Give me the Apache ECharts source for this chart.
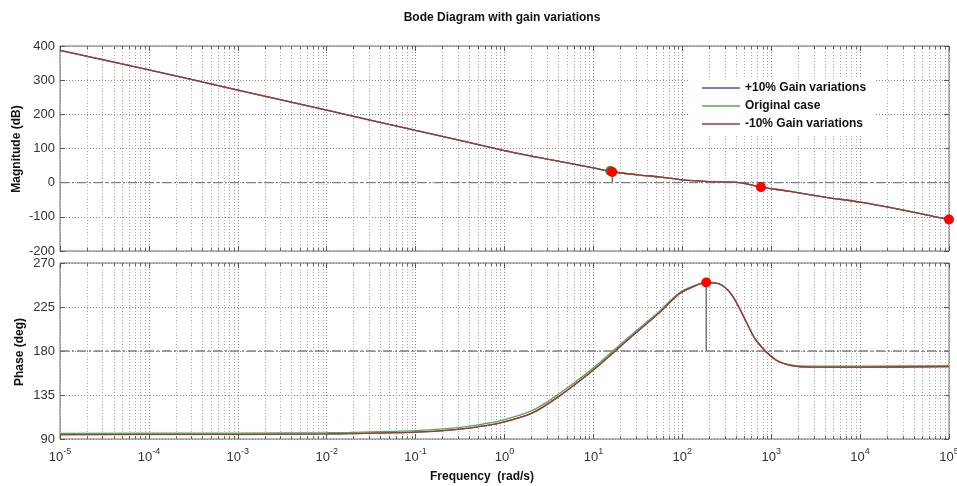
<!DOCTYPE html>
<html>
<head>
<meta charset="utf-8">
<script src="https://cdn.jsdelivr.net/npm/echarts@6/dist/echarts.min.js"></script>
<style>html,body{margin:0;padding:0;background:#fff;}#c{width:957px;height:486px;}</style>
</head>
<body>
<div id="c"></div>
<script>
// ---------- data ----------
const xTickExp = [-5, -4, -3, -2, -1, 0, 1, 2, 3, 4, 5];
const magTicks = [-200, -100, 0, 100, 200, 300, 400];
const phaseTicks = [90, 135, 180, 225, 270];

// magnitude curve (rad/s, dB)
const magFreq = [1e-5, 1e-4, 1e-3, 1e-2, 0.1, 0.316, 1, 3.16, 10, 16.3, 31.6, 55, 100, 200, 436, 766, 1580, 4170, 10000, 22900, 77600, 1e5];
const magPlus = [387, 330, 271, 212, 153, 124, 94, 68, 43, 32, 23, 17, 8, 3, 0, -13, -25, -43, -57, -74, -102, -108];
const magOrig = [387, 330, 271, 212, 153, 124, 94, 68, 43, 32, 23, 17, 8, 3, 0, -13, -25, -43, -57, -74, -102, -108];
const magMinus = [387, 330, 271, 212, 153, 124, 94, 68, 43, 32, 23, 17, 8, 3, 0, -13, -25, -43, -57, -74, -102, -108];

// phase curve (rad/s, deg)
const phFreq = [1e-5, 1e-3, 1e-2, 0.0182, 0.1, 0.24, 0.5, 0.88, 2.04, 4.15, 9.8, 23.4, 55, 91, 129, 186, 257, 363, 513, 676, 1120, 1740, 3000, 10000, 1e5];
const phPlus = [94.5, 94.8, 95.2, 95.5, 97, 99, 102.5, 106.3, 116.5, 134, 160, 190, 219, 238, 245.4, 250, 248.8, 237, 211.5, 191, 171, 164.7, 163.5, 163.5, 164];
const phOrig = [95.8, 96.1, 96.5, 96.8, 98.5, 100.8, 104.5, 108.5, 119, 136.5, 162, 192, 220.5, 239, 246, 250.2, 248.8, 237, 211.5, 191, 171, 165.5, 164.5, 164.5, 165];
const phMinus = [94.5, 94.8, 95.2, 95.5, 97, 99, 102.5, 106.3, 116.5, 134, 160, 190, 219, 238, 245.4, 250, 248.8, 237, 211.5, 191, 171, 164.7, 163.5, 163.5, 164];

// marked points
const magMarkRed = [[16.3, 31.3], [766, -13], [1e5, -108]];
const magMarkGreen = [[15.5, 34.2]];
const phMarkRed = [[186, 250]];
const magStem = [[16.3, 31.3], [16.3, 0]];
const phStem = [[186, 250], [186, 180]];

const names = ['+10% Gain variations', 'Original case', '-10% Gain variations'];
const colors = ['#5050b0', '#4caf50', '#b03030'];

// ---------- helpers ----------
const zip = (xs, ys) => xs.map((x, i) => [x, ys[i]]);
const minorVals = [];
for (let e = -5; e < 5; e++) for (let m = 2; m <= 9; m++) minorVals.push(m * Math.pow(10, e));

function minorSeries(idx, ymin, ymax) {
  return {
    type: 'custom', xAxisIndex: idx, yAxisIndex: idx, silent: true, z: 1,
    data: minorVals.map(v => [v, ymin, ymax]),
    encode: { x: 0, y: 1 },
    renderItem: function (params, api) {
      const v = api.value(0);
      const p1 = api.coord([v, api.value(2)]);
      const p2 = api.coord([v, api.value(1)]);
      const x = Math.round(p1[0]) + 0.5;
      return {
        type: 'group', children: [
          { type: 'line', shape: { x1: x, y1: p1[1], x2: x, y2: p2[1] }, style: { stroke: '#aaa', lineWidth: 1, lineDash: [1, 2] } },
          { type: 'line', shape: { x1: x, y1: p1[1], x2: x, y2: p1[1] + 3 }, style: { stroke: '#666', lineWidth: 1 } },
          { type: 'line', shape: { x1: x, y1: p2[1], x2: x, y2: p2[1] - 3 }, style: { stroke: '#666', lineWidth: 1 } }
        ]
      };
    }
  };
}

function xAx(grid, pos, labels) {
  return {
    type: 'log', logBase: 10, gridIndex: grid, position: pos, min: 1e-5, max: 1e5, interval: 1, splitNumber: 10,
    axisLine: { show: false, onZero: false },
    axisTick: { show: true, inside: true, length: 5, lineStyle: { color: '#555' } },
    axisLabel: labels ? {
      show: true, margin: 6, showMinLabel: true, showMaxLabel: true, hideOverlap: false,
      formatter: function (v) {
        const e = Math.round(Math.log10(v));
        if (xTickExp.indexOf(e) < 0) return '';
        return '{b|10}{s|' + e + '}';
      },
      rich: {
        b: { fontSize: 13, fontFamily: 'Liberation Sans, Arial', color: '#333', padding: [6, 0, 0, 0] },
        s: { fontSize: 9, fontFamily: 'Liberation Sans, Arial', color: '#333', padding: [0, 0, 6, 0] }
      }
    } : { show: false },
    splitLine: pos === 'bottom' ? { show: true, lineStyle: { color: '#888', type: [1, 2], width: 1 } } : { show: false }
  };
}
function yAx(grid, pos, min, max, interval, ticks) {
  return {
    type: 'value', gridIndex: grid, position: pos, min: min, max: max, interval: interval,
    axisLine: { show: false, onZero: false },
    axisTick: { show: true, inside: true, length: 5, lineStyle: { color: '#555' } },
    axisLabel: pos === 'left' ? {
      show: true, margin: 5, fontSize: 13, fontFamily: 'Liberation Sans, Arial', color: '#333',
      formatter: v => (ticks.indexOf(v) >= 0 ? String(v) : '')
    } : { show: false },
    splitLine: pos === 'left' ? { show: true, lineStyle: { color: '#888', type: [1, 2], width: 1 } } : { show: false }
  };
}
function curve(name, color, idx, xs, ys, z) {
  return {
    name: name, type: 'line', xAxisIndex: idx, yAxisIndex: idx, data: zip(xs, ys),
    symbol: 'none', showSymbol: false, smooth: 0.3, z: z,
    lineStyle: { color: color, width: 1.3 }, itemStyle: { color: color }
  };
}
function refLine(idx, y) {
  return {
    type: 'line', xAxisIndex: idx, yAxisIndex: idx, silent: true, symbol: 'none', z: 2,
    data: [[1e-5, y], [1e5, y]],
    lineStyle: { color: '#808080', width: 1.3, type: [9, 3, 2, 3] }
  };
}
function stem(idx, pts) {
  return {
    type: 'line', xAxisIndex: idx, yAxisIndex: idx, silent: true, symbol: 'none', z: 3,
    data: pts, lineStyle: { color: '#777', width: 1.5 }
  };
}
function marks(idx, pts, color, z) {
  return {
    type: 'scatter', xAxisIndex: idx, yAxisIndex: idx, silent: true, clip: false, z: z,
    symbol: 'circle', symbolSize: 10, data: pts, itemStyle: { color: color, opacity: 1 }
  };
}

const gridL = 60, gridW = 889;
const option = {
  animation: false,
  backgroundColor: '#fff',
  grid: [
    { left: gridL, width: gridW, top: 46, height: 205, show: true, borderColor: '#6e6e6e', borderWidth: 1, backgroundColor: 'transparent', containLabel: false, outerBoundsMode: 'none' },
    { left: gridL, width: gridW, top: 263, height: 176, show: true, borderColor: '#6e6e6e', borderWidth: 1, backgroundColor: 'transparent', containLabel: false, outerBoundsMode: 'none' }
  ],
  xAxis: [xAx(0, 'bottom', false), xAx(1, 'bottom', true), xAx(0, 'top', false), xAx(1, 'top', false)],
  yAxis: [yAx(0, 'left', -200, 400, 100, magTicks), yAx(1, 'left', 90, 270, 45, phaseTicks),
          yAx(0, 'right', -200, 400, 100, magTicks), yAx(1, 'right', 90, 270, 45, phaseTicks)],
  legend: {
    data: names, orient: 'vertical', left: 688, top: 77,
    backgroundColor: '#fff', padding: [4, 10, 4, 14], itemGap: 4,
    itemWidth: 38, itemHeight: 1.3, icon: 'rect',
    textStyle: { fontSize: 12, fontWeight: 'bold', fontFamily: 'Liberation Sans, Arial', color: '#111', lineHeight: 14 }
  },
  graphic: [
    { type: 'text', x: 502, y: 18, style: { text: 'Bode Diagram with gain variations', font: 'bold 12px "Liberation Sans", Arial', fill: '#111', align: 'center', verticalAlign: 'middle' } },
    { type: 'text', x: 17, y: 149, rotation: Math.PI / 2, style: { text: 'Magnitude (dB)', font: 'bold 12px "Liberation Sans", Arial', fill: '#111', align: 'center', verticalAlign: 'middle' } },
    { type: 'text', x: 20, y: 352, rotation: Math.PI / 2, style: { text: 'Phase (deg)', font: 'bold 12px "Liberation Sans", Arial', fill: '#111', align: 'center', verticalAlign: 'middle' } },
    { type: 'text', x: 482, y: 477, style: { text: 'Frequency  (rad/s)', font: 'bold 12px "Liberation Sans", Arial', fill: '#111', align: 'center', verticalAlign: 'middle' } }
  ],
  series: [
    minorSeries(0, -200, 400),
    minorSeries(1, 90, 270),
    refLine(0, 0),
    refLine(1, 180),
    stem(0, magStem),
    stem(1, phStem),
    curve(names[0], colors[0], 0, magFreq, magPlus, 4),
    curve(names[1], colors[1], 0, magFreq, magOrig, 5),
    curve(names[2], colors[2], 0, magFreq, magMinus, 6),
    curve(names[0], colors[0], 1, phFreq, phPlus, 4),
    curve(names[1], colors[1], 1, phFreq, phOrig, 5),
    curve(names[2], colors[2], 1, phFreq, phMinus, 6),
    marks(0, magMarkGreen, '#2e8b2e', 7),
    marks(0, magMarkRed, '#ff0000', 8),
    marks(1, phMarkRed, '#ff0000', 8)
  ]
};
const chart = echarts.init(document.getElementById('c'), null, { renderer: 'canvas' });
chart.setOption(option);
</script>
</body>
</html>
